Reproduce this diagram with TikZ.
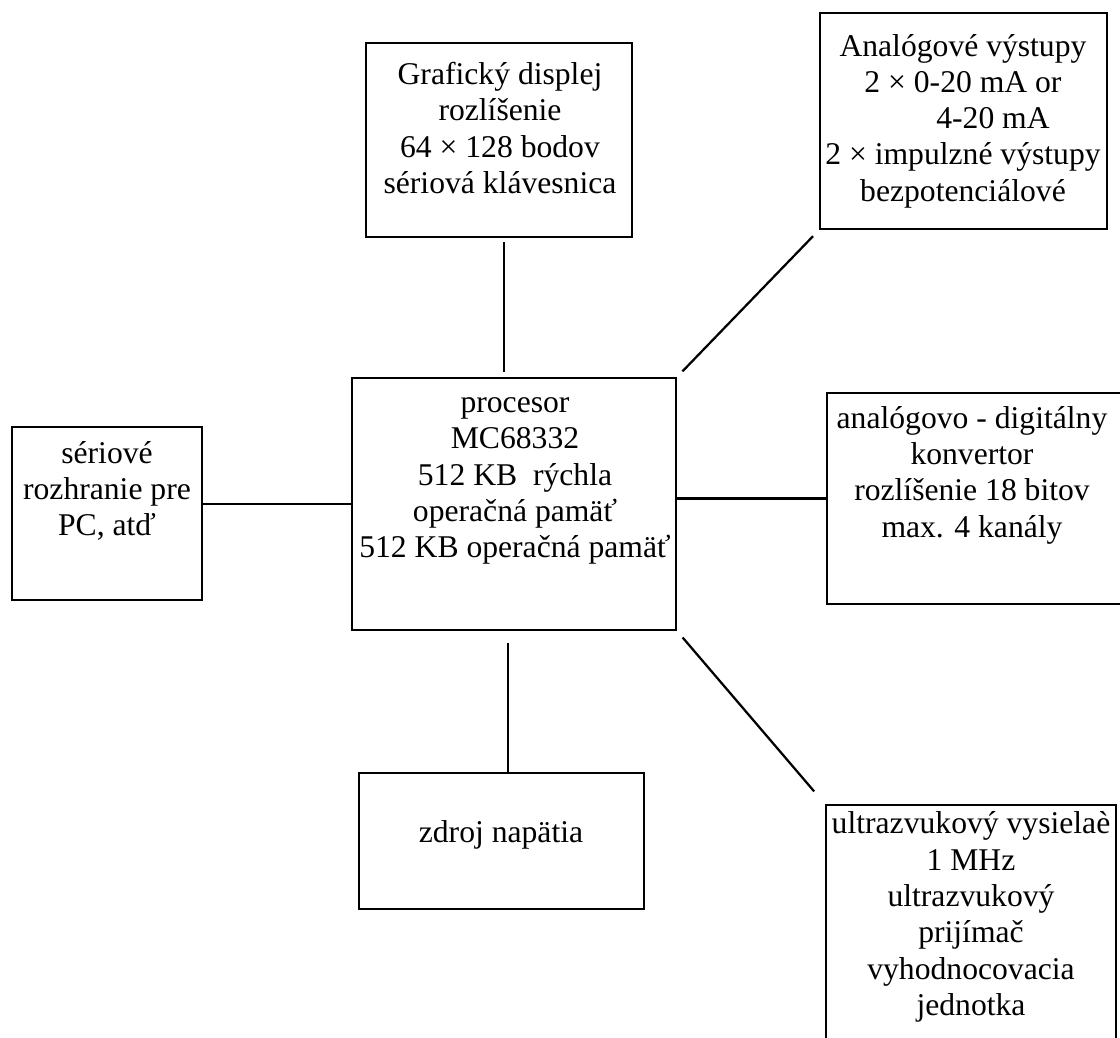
\documentclass[tikz,border=0pt]{standalone}
\usepackage{fontspec}
\setmainfont{Liberation Serif}
\usetikzlibrary{fit}
\tikzset{
  blokschema/.style={x=0.025cm,y=-0.025cm,font=\fontsize{22.5}{25.8}\selectfont},
  blok/.style={draw,line width=2pt,inner sep=0pt},
  popis/.style={align=center,inner sep=0pt},
  spoj/.style={line width=1.6pt}
}
\begin{document}
\begin{tikzpicture}[blokschema]
    \useasboundingbox (0,0) rectangle (1120,1038);
    % bloky
    \node[blok,fit={(366,43) (632,237)}]    (graf)   {};
    \node[blok,fit={(820,13) (1107,229)}]   (analog) {};
    \node[blok,fit={(12,427) (202,600)}]    (sers)   {};
    \node[blok,fit={(352,378) (676,630)}]   (proc)   {};
    \node[blok,fit={(827,393) (1126,604)}]  (ad)     {};
    \node[blok,fit={(359,773) (644,909)}]   (zdroj)  {};
    \node[blok,fit={(826,805) (1116,1046)}] (ultra)  {};
    % texty
    \node[popis] (grafT) at (500,128) {Grafický displej\\rozlíšenie\\64 × 128 bodov\\sériová klávesnica};
    \node[popis] (analogT) at (963,121) {Analógové výstupy\\2 × 0-20 mA or\\\hspace*{1.5cm}4-20 mA\\2 × impulzné výstupy\\bezpotenciálové};
    \node[popis] (sersT) at (107,491) {sériové\\rozhranie pre\\PC, atď};
    \node[popis] (procT) at (515,481) {procesor\\MC68332\\512 KB\ \ rýchla\\operačná pamäť\\512 KB operačná pamäť};
    \node[popis] (adT) at (972,475) {analógovo - digitálny\\konvertor\\rozlíšenie 18 bitov\\max. 4 kanály};
    \node[popis] (zdrojT) at (501,835) {zdroj napätia};
    \node[popis] (ultraT) at (971,917) {ultrazvukový vysielaè\\1 MHz\\ultrazvukový\\prijímač\\vyhodnocovacia\\jednotka};
    % spoje
    \draw[spoj,shorten <=1mm,shorten >=1.2mm] ([xshift=1.25mm]graf.south) -- ([xshift=1.25mm]graf.south |- proc.north);
    \draw[spoj,shorten <=1.8mm,shorten >=2mm] (proc.north east) -- (analog.south west);
    \draw[spoj] (proc.west) -- (proc.west -| sers.east);
    \draw[spoj] (ad.west) -- (ad.west -| proc.east);
    \draw[spoj,shorten <=3mm] ([xshift=1.6mm]zdroj.north |- proc.south) -- ([xshift=1.6mm]zdroj.north);
    \draw[spoj,shorten <=2mm,shorten >=4mm] (proc.south east) -- (ultra.north west);
\end{tikzpicture}
\end{document}
